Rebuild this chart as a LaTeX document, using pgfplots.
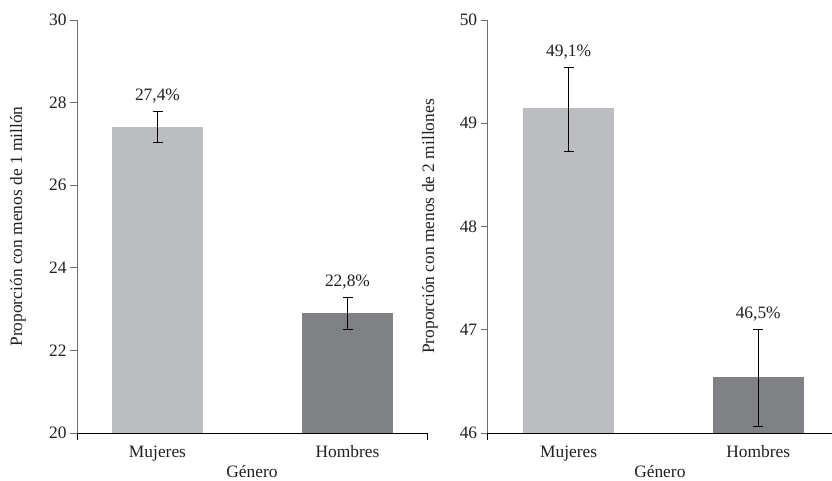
\documentclass[border=0pt]{standalone}
\usepackage{pgfplots}
\pgfplotsset{compat=1.18}
\usepackage{fontspec}
\setmainfont{Liberation Serif}
\definecolor{barlight}{RGB}{188,189,192}
\definecolor{bardark}{RGB}{128,129,132}
\definecolor{yaxisgray}{RGB}{110,110,112}
\definecolor{txt}{RGB}{35,31,32}
\newcommand{\ff}{\fontsize{17.4}{20}\selectfont}
\begin{document}
\begin{tikzpicture}
\path[use as bounding box] (0pt,0pt) rectangle (832pt,480pt);
\pgfplotsset{
  myaxis/.style={
    scale only axis, height=413pt, anchor=south west,
    /pgf/number format/assume math mode=true,
    axis x line=bottom, axis y line=left, axis line style={-},
    x axis line style={black, line width=0.8pt},
    y axis line style={yaxisgray, line width=0.8pt},
    tick align=outside, major tick length=7pt,
    y tick style={yaxisgray, line width=0.8pt},
    x tick style={draw=none},
    xtick={0,1}, xticklabels={Mujeres,Hombres},
    xticklabel style={anchor=base, yshift=-17pt},
    tick label style={font=\ff, text=txt},
    label style={font=\ff, text=txt},
    xlabel={Género},
    xlabel style={at={(axis description cs:0.5,0)}, anchor=base, yshift=-44.5pt},
    extra x tick labels={},
    extra x tick style={x tick style={draw=black, line width=0.8pt}},
    clip=false,
  },
  mybar/.style={ybar, bar shift=0pt, bar width=91pt, draw=none, fill=#1,
    error bars/.cd, y dir=both, y explicit,
    error bar style={black, line width=0.8pt},
    error mark options={black, line width=0.8pt, mark size=5pt, rotate=90}},
}
% Left panel
\begin{axis}[myaxis, at={(77pt,47pt)}, width=350pt,
  xmin=-0.4237, xmax=1.4184, ymin=20, ymax=30, ytick={20,22,...,30},
  extra x ticks={-0.4237,1.4184},
  ylabel={Proporción con menos de 1 millón},
  ylabel style={at={(axis description cs:-0.1686,0.5)}, rotate=0, anchor=center}]
\addplot[mybar=barlight] coordinates {(0,27.41) += (0,0.37) -= (0,0.38)};
\addplot[mybar=bardark] coordinates {(1,22.90) += (0,0.39) -= (0,0.39)};
\node[anchor=base, font=\ff, text=txt, yshift=11pt] at (axis cs:0,27.78) {27,4\%};
\node[anchor=base, font=\ff, text=txt, yshift=11pt] at (axis cs:1,23.29) {22,8\%};
\end{axis}
% Right panel
\begin{axis}[myaxis, at={(487.7pt,47pt)}, width=344.3pt,
  xmin=-0.427, xmax=1.389, ymin=46, ymax=50, ytick={46,47,...,50},
  extra x ticks={-0.427},
  ylabel={Proporción con menos de 2 millones},
  ylabel style={at={(axis description cs:-0.1676,0.5)}, rotate=0, anchor=center}]
\addplot[mybar=barlight] coordinates {(0,49.145) += (0,0.395) -= (0,0.415)};
\addplot[mybar=bardark] coordinates {(1,46.54) += (0,0.46) -= (0,0.475)};
\node[anchor=base, font=\ff, text=txt, yshift=11pt] at (axis cs:0,49.54) {49,1\%};
\node[anchor=base, font=\ff, text=txt, yshift=11pt] at (axis cs:1,47.00) {46,5\%};
\end{axis}
\end{tikzpicture}
\end{document}
